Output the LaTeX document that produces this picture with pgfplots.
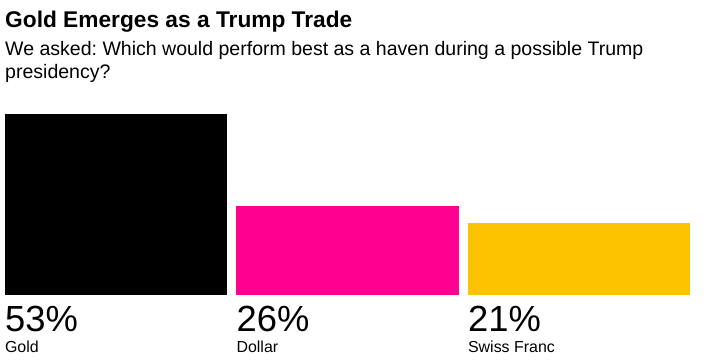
\documentclass[border=0pt]{standalone}
\usepackage{pgfplots}
\pgfplotsset{compat=1.18}
\usepackage{fontspec}
\setmainfont{Liberation Sans}
\frenchspacing
\definecolor{bbmagenta}{HTML}{FF0090}
\definecolor{bbyellow}{HTML}{FEC300}
\begin{document}
\begin{tikzpicture}[x=1bp,y=1bp]
\useasboundingbox (0,0) rectangle (706,360);
\node[anchor=base west,inner sep=0pt] at (5,333) {\fontsize{22.8}{27}\selectfont\bfseries Gold Emerges as a Trump Trade};
\node[anchor=base west,inner sep=0pt] at (5,305) {\fontsize{19.6}{23}\selectfont\frenchspacing We asked: Which would perform best as a haven during a possible Trump};
\node[anchor=base west,inner sep=0pt] at (5,282) {\fontsize{19.6}{23}\selectfont presidency?};
\begin{axis}[
  at={(0.25bp,65bp)}, anchor=south west,
  scale only axis, width=694.5bp, height=181bp,
  xmin=-0.5, xmax=2.5, ymin=0, ymax=53,
  hide axis, clip=false,
  ybar, bar width=0.96, bar shift=0pt,
]
\addplot[fill=black, draw=none] coordinates {(0,53)};
\addplot[fill=bbmagenta, draw=none] coordinates {(1,26)};
\addplot[fill=bbyellow, draw=none] coordinates {(2,21)};
\node[anchor=base west,inner sep=0pt] at (axis cs:-0.48,0) [yshift=-36bp] {\fontsize{36.5}{36}\selectfont 53\%};
\node[anchor=base west,inner sep=0pt] at (axis cs:0.52,0) [yshift=-36bp] {\fontsize{36.5}{36}\selectfont 26\%};
\node[anchor=base west,inner sep=0pt] at (axis cs:1.52,0) [yshift=-36bp] {\fontsize{36.5}{36}\selectfont 21\%};
\node[anchor=base west,inner sep=0pt] at (axis cs:-0.48,0) [yshift=-57bp] {\fontsize{16}{18}\selectfont Gold};
\node[anchor=base west,inner sep=0pt] at (axis cs:0.52,0) [yshift=-57bp] {\fontsize{16}{18}\selectfont Dollar};
\node[anchor=base west,inner sep=0pt] at (axis cs:1.52,0) [yshift=-57bp] {\fontsize{16}{18}\selectfont Swiss Franc};
\end{axis}
\end{tikzpicture}
\end{document}
